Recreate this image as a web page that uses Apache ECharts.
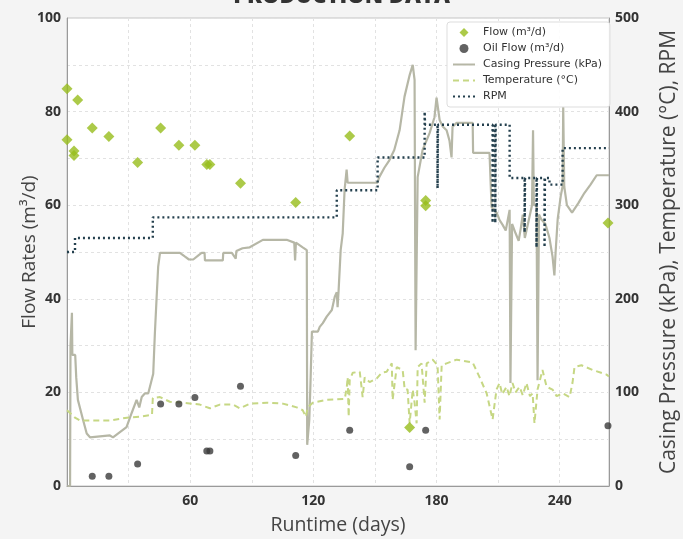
<!DOCTYPE html>
<html><head><meta charset="utf-8">
<script src="https://cdn.jsdelivr.net/npm/echarts@6/dist/echarts.min.js"></script>
<style>html,body{margin:0;padding:0;background:#f4f4f4}#c{width:683px;height:539px}</style>
</head><body><div id="c"></div>
<script>
// Flow (m³/d) — left axis
const flowDays=[0,0,3.4,3.4,5.2,12.3,20.4,34.4,45.6,54.5,62.3,68.1,69.6,84.5,111.4,137.7,166.9,174.7,174.7,263.5];
const flowValues=[84.9,74.0,71.6,70.6,82.5,76.5,74.7,69.1,76.5,72.8,72.8,68.7,68.7,64.7,60.6,74.8,12.5,61.0,59.9,56.2];
// Oil Flow (m³/d) — left axis
const oilDays=[12.3,20.4,34.4,45.6,54.5,62.3,68.1,69.6,84.5,111.4,137.7,166.9,174.7,263.5];
const oilValues=[2.1,2.1,4.7,17.5,17.5,18.9,7.5,7.5,21.3,6.5,11.9,4.1,11.9,12.9];
// Casing Pressure (kPa) — right axis
const casingDays=[0.2,1.5,1.7,2.4,2.6,3.3,4.0,4.5,5.3,7.9,9.6,11.2,20.9,22.4,29,31.5,33.9,35.2,36.4,38,39.6,42,42.8,43.6,44.4,45.3,55,57.5,59.4,61.5,64.3,65.6,67,67.2,75.9,76.1,80.3,82.2,82.5,85.5,89,95.4,107,110.7,111.1,111.5,114.8,116.8,117,118,118.5,119.3,122.2,123.1,124.6,126.5,129,130.4,131.4,131.8,132.3,133.3,134.3,135.2,136.2,136.7,137.6,151.2,152.1,154.6,157,159.4,162,163.4,164.4,166.9,168.4,169.3,169.6,169.8,170.3,170.8,173.2,176.6,179,180,181.5,183,184.9,186.3,187.3,187.8,189.8,197.6,197.8,205.8,206.8,209.3,210.7,212.2,213.7,215.6,216,216.5,216.8,218.5,220,221,222,223,224.5,226.5,227,227.4,228.7,229.2,229.6,229.9,231,233,235,236.5,237.4,238,239,240.5,241.4,241.7,242.2,243.5,246,249,252,255,258,264];
const casingValues=[0,0,150,185,140,142,140,116,92,70,56,52,54,52,63,78,92,84,95,99,99,120,163,199,234,249,249,245,242,242,247,249,249,241,241,249,249,243,251,254,255,263,263,260,241,260,255,252,44,70,103,165,165,170,174,181,188,202,207,191,209,252,270,316,338,324,324,324,330,340,348,359,380,401,416,439,450,434,252,145,145,330,359,377,394,415,391,384,380,369,351,384,388,388,356,356,298,292,284,279,273,295,110,110,280,270,262,275,290,265,280,300,380,300,300,113,113,290,285,280,265,245,225,250,285,310,320,405,320,300,292,302,313,322,332,332];
// Temperature (°C) — right axis
const tempDays=[0,3.9,6.3,20.9,29.2,35.5,41.4,41.8,45.3,50.1,56.4,64.7,69.6,74.5,80.8,84.2,89.1,97.3,105.1,111.9,114.8,116.3,117.3,119.7,126.5,135.3,136.3,136.7,137.2,137.7,139.2,142.6,144,145,147.4,150.9,153.3,155.7,158.2,158.6,160.6,163.5,164.5,165.9,166.9,168.4,169.3,170.3,170.8,172.7,174.2,175.2,178.1,180.5,181.5,182.5,184.9,189.8,197.6,201,204.4,207.3,209.2,210.7,212,214.1,215.5,217,218.5,220.4,222,223.8,225.5,226.8,227.7,229.2,231.6,233.6,236.5,238.5,241.4,244.8,246.2,247.2,250.6,256,262.8,264];
const tempValues=[81,73,70,70,73,74,76,94,95,90,89,87,83,87,87,83,88,89,88,84,81,74,84,89,92,93,106,116,74,113,121,122,95,116,111,115,121,122,131,92,127,124,103,103,67,103,89,67,127,131,89,131,135,129,71,129,131,135,132,116,99,71,103,110,98,106,96,110,100,106,97,110,96,99,67,103,124,106,103,96,99,95,110,127,129,124,119,117];
// RPM — right axis
const rpmDays=[0,3.9,3.9,41.8,41.8,131.4,131.4,151.3,151.3,174.2,174.2,174.4,180.5,180.5,180.7,207.3,207.3,207.5,208.6,208.6,208.8,215.6,215.6,222.9,222.9,223.1,228.7,228.7,228.9,232.6,232.6,232.8,235,235,241.4,241.4,264];
const rpmValues=[250,250,265,265,287,287,316,316,351,351,400,386,386,318,386,386,281,386,386,281,386,386,329,329,271,329,329,255,329,329,255,329,329,322,322,361,361];
// Tick labels
const xTickLabels=[60,120,180,240];
const leftTickLabels=[0,20,40,60,80,100];
const rightTickLabels=[0,100,200,300,400,500];

const zip=(a,b)=>a.map((d,i)=>[d,b[i]]);
const FONT='Open Sans';
const hideSym={opacity:0,color:'rgba(0,0,0,0)',borderWidth:0};
const chart=echarts.init(document.getElementById('c'));
chart.setOption({
  backgroundColor:'#f4f4f4',
  animation:false,
  title:{text:'PRODUCTION DATA',left:'center',top:-19,textStyle:{fontFamily:FONT,fontWeight:800,fontSize:22,color:'#333'}},
  grid:{left:67,right:74,top:18,bottom:53,outerBoundsMode:'none',containLabel:false,show:true,backgroundColor:'#ffffff',borderColor:'#c4c4c4',borderWidth:1},
  legend:{
    orient:'vertical',left:447,top:22,symbolKeepAspect:true,
    backgroundColor:'rgba(255,255,255,0.9)',borderColor:'#dddddd',borderWidth:1,borderRadius:3,
    padding:[5,8,5,5],itemWidth:22,itemHeight:9,itemGap:5,
    textStyle:{fontFamily:'DejaVu Sans',fontSize:11,color:'#333',padding:[0,0,0,3]},
    data:[
      {name:'Flow (m³/d)',icon:'path://M5,0L10,5L5,10L0,5Z'},
      {name:'Oil Flow (m³/d)',icon:'circle'},
      {name:'Casing Pressure (kPa)',itemStyle:hideSym},
      {name:'Temperature (°C)',itemStyle:hideSym},
      {name:'RPM',itemStyle:hideSym}
    ]
  },
  xAxis:{
    type:'value',min:0,max:264,interval:30,
    name:'Runtime (days)',nameLocation:'middle',nameGap:29,nameMoveOverlap:false,
    nameTextStyle:{fontFamily:FONT,fontSize:19.5,color:'#444'},
    axisLine:{show:true,lineStyle:{color:'#9a9a9a'}},axisTick:{show:false},
    axisLabel:{margin:8,fontFamily:FONT,fontWeight:'bold',fontSize:14,color:'#333',
      formatter:v=>xTickLabels.includes(v)?String(v):''},
    splitLine:{show:true,lineStyle:{color:'#e2e2e2',type:[3,3]}}
  },
  yAxis:[
    {type:'value',min:0,max:100,interval:10,position:'left',
     name:'Flow Rates (m³/d)',nameLocation:'middle',nameGap:28,nameMoveOverlap:false,
     nameTextStyle:{fontFamily:FONT,fontSize:19,color:'#444'},
     axisLine:{show:true,lineStyle:{color:'#9a9a9a'}},axisTick:{show:false},
     axisLabel:{margin:6,fontFamily:FONT,fontWeight:'bold',fontSize:14,color:'#333',
       formatter:v=>leftTickLabels.includes(v)?String(v):''},
     splitLine:{show:true,lineStyle:{color:'#e2e2e2',type:[3,3]}}},
    {type:'value',min:0,max:500,interval:100,position:'right',
     name:'Casing Pressure (kPa), Temperature (°C), RPM',nameLocation:'middle',nameGap:50,nameMoveOverlap:false,
     nameTextStyle:{fontFamily:FONT,fontSize:21,color:'#444'},
     axisLine:{show:true,lineStyle:{color:'#9a9a9a'}},axisTick:{show:false},
     axisLabel:{margin:6,fontFamily:FONT,fontWeight:'bold',fontSize:14,color:'#333',
       formatter:v=>rightTickLabels.includes(v)?String(v):''},
     splitLine:{show:false}}
  ],
  series:[
    {name:'Casing Pressure (kPa)',type:'line',yAxisIndex:1,symbol:'none',z:2,
     data:zip(casingDays,casingValues),lineStyle:{color:'#b6b7a6',width:2.2},itemStyle:{color:'#b6b7a6'}},
    {name:'Temperature (°C)',type:'line',yAxisIndex:1,symbol:'none',z:3,
     data:zip(tempDays,tempValues),lineStyle:{color:'#c6d784',width:2,type:[6,4]},itemStyle:{color:'#c6d784'}},
    {name:'RPM',type:'line',yAxisIndex:1,symbol:'none',z:4,
     data:zip(rpmDays,rpmValues),lineStyle:{color:'#24404e',width:2.4,type:[2,3]},itemStyle:{color:'#24404e'}},
    {name:'Flow (m³/d)',type:'scatter',yAxisIndex:0,symbol:'diamond',symbolSize:11,z:5,
     data:zip(flowDays,flowValues),itemStyle:{color:'#97bd1c'}},
    {name:'Oil Flow (m³/d)',type:'scatter',yAxisIndex:0,symbol:'circle',symbolSize:7,z:5,
     data:zip(oilDays,oilValues),itemStyle:{color:'#3b3b3b'}}
  ]
});
</script></body></html>
